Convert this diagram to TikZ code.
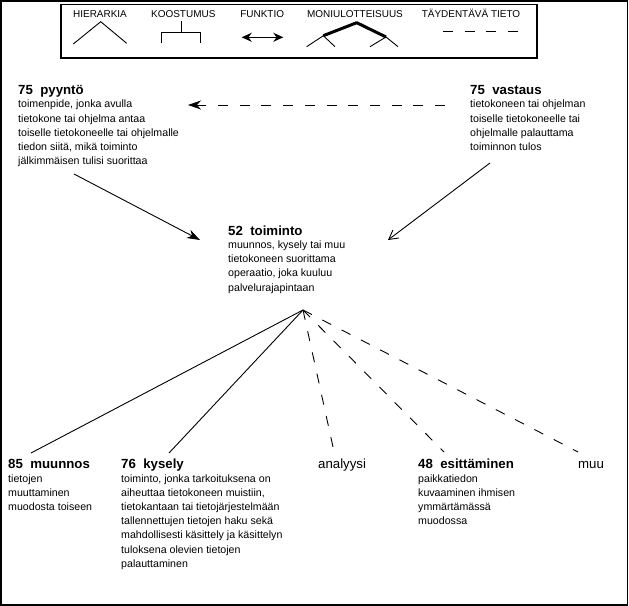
\documentclass[tikz,border=0pt]{standalone}
\usepackage{fontspec}
\setmainfont{Liberation Sans}
\usetikzlibrary{arrows.meta}
\begin{document}
\begin{tikzpicture}[x=1bp,y=-1bp,
  hd/.style={anchor=base west,inner sep=0,font=\fontsize{13.3}{16}\selectfont\bfseries},
  lab/.style={anchor=base west,inner sep=0,font=\fontsize{13.3}{16}\selectfont},
  bd/.style={anchor=north west,inner sep=0,align=left,font=\fontsize{10.67}{14.3}\selectfont},
  lg/.style={anchor=base,inner sep=0,font=\fontsize{10}{12}\selectfont},
  link/.style={line width=0.9bp},
  dsh/.style={line width=0.9bp,dash pattern=on 10bp off 11.7bp},
  solidtip/.style={-{Stealth[length=13bp,width=9bp,inset=4bp]}},
  opentip/.style={-{Straight Barb[length=9bp,width=10bp]}}
]
\fill[white] (0,0) rectangle (629,606);
\useasboundingbox (0,0) rectangle (629,606);
\draw[line width=1.6bp] (0.8,0.8) rectangle (627.6,604.8);

% legend
\draw[line width=1.2bp] (61,4.5) rectangle (537,58);
\node[lg] (lh) at (100,17.6) {HIERARKIA};
\node[lg] (lk) at (183.3,17.6) {KOOSTUMUS};
\node[lg] (lf) at (262.2,17.6) {FUNKTIO};
\node[lg] (lm) at (355,17.6) {MONIULOTTEISUUS};
\node[lg] (lt) at (471,17.6) {TÄYDENTÄVÄ TIETO};
\draw[link] (73.3,44) -- (100.7,21.7) -- (126.7,43.3);
\draw[link] (181.7,20.7) -- (181.7,32.7) (161.7,43.3) -- (161.7,32.7) -- (200.7,32.7) -- (200.7,43.3);
\draw[line width=1.3bp,{Stealth[length=10bp,width=9bp]}-{Stealth[length=10bp,width=9bp]}] (241.7,37.3) -- (283.3,37.3);
\draw[line width=3bp,line join=round] (323.3,35.7) -- (356.7,22.7) -- (386,37);
\draw[link] (306.7,46.7) -- (323.3,35.7) -- (335,46.7) (370,46.7) -- (386,37) -- (398,46.7);
\draw[dsh] (443,31) -- (518,31);

% blocks
\node[hd] (pyy) at (18,94.7) {75\ \ pyyntö};
\node[bd] (pyyb) at (18,98.8) {\rule{0pt}{9bp}toimenpide, jonka avulla\\tietokone tai ohjelma antaa\\toiselle tietokoneelle tai ohjelmalle\\tiedon siitä, mikä toiminto\\jälkimmäisen tulisi suorittaa};

\node[hd] (vas) at (470,94.7) {75\ \ vastaus};
\node[bd] (vasb) at (470,98.8) {\rule{0pt}{9bp}tietokoneen tai ohjelman\\toiselle tietokoneelle tai\\ohjelmalle palauttama\\toiminnon tulos};

\node[hd] (toi) at (228,235.7) {52\ \ toiminto};
\node[bd] (toib) at (228,239.3) {\rule{0pt}{9bp}muunnos, kysely tai muu\\tietokoneen suorittama\\operaatio, joka kuuluu\\palvelurajapintaan};

\node[hd] (muu) at (8,468.7) {85\ \ muunnos};
\node[bd] (muub) at (8,472.8) {\rule{0pt}{9bp}tietojen\\muuttaminen\\muodosta toiseen};

\node[hd] (kys) at (121,468.7) {76\ \ kysely};
\node[bd] (kysb) at (121,472.8) {\rule{0pt}{9bp}toiminto, jonka tarkoituksena on\\aiheuttaa tietokoneen muistiin,\\tietokantaan tai tietojärjestelmään\\tallennettujen tietojen haku sekä\\mahdollisesti käsittely ja käsittelyn\\tuloksena olevien tietojen\\palauttaminen};

\node[lab] (ana) at (318,468.7) {analyysi};

\node[hd] (esi) at (418,468.7) {48\ \ esittäminen};
\node[bd] (esib) at (418,472.8) {\rule{0pt}{9bp}paikkatiedon\\kuvaaminen ihmisen\\ymmärtämässä\\muodossa};

\node[lab] (muo) at (578,468.7) {muu};

% connector ends
\coordinate (vasL) at (445,105);
\coordinate (pyyR) at (188,105);
\coordinate (pyyOut) at (74,174);
\coordinate (vasOut) at (490,163);
\coordinate (toiInL) at (200,240);
\coordinate (toiInR) at (388,240);
\coordinate (apex) at (303,310);
\coordinate (muuIn) at (31,453);
\coordinate (kysIn) at (169,453);
\coordinate (anaIn) at (333,447);
\coordinate (esiIn) at (444,452);
\coordinate (muoIn) at (578,452);

\draw[dsh,solidtip] (vasL) -- (pyyR);
\draw[link,solidtip] (pyyOut) -- (toiInL);
\draw[link,opentip] (vasOut) -- (toiInR);
\draw[link] (apex) -- (muuIn);
\draw[link] (apex) -- (kysIn);
\draw[dsh] (apex) -- (anaIn);
\draw[dsh] (apex) -- (esiIn);
\draw[dsh] (apex) -- (muoIn);
\end{tikzpicture}
\end{document}
